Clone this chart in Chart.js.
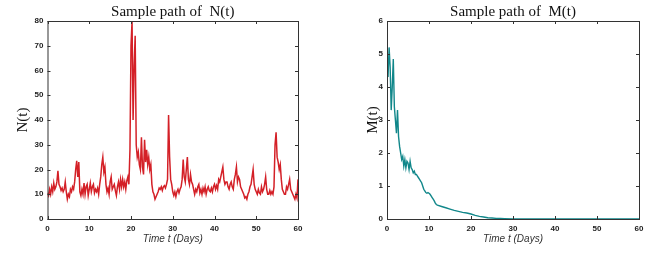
<!DOCTYPE html>
<html>
<head>
<meta charset="utf-8">
<script src="https://cdn.jsdelivr.net/npm/chart.js@4.4.1/dist/chart.umd.min.js"></script>
<style>
  body { margin: 0; background: #fff; }
  #wrap { position: relative; width: 660px; height: 259px; }
  canvas { position: absolute; top: 0; }
</style>
</head>
<body>
<div id="wrap">
  <canvas id="nChart" width="330" height="259" style="left:0"></canvas>
  <canvas id="mChart" width="330" height="259" style="left:330px"></canvas>
</div>
<script>
// N(t), every 0.25 day
const nValues = [
  10.5, 9.5, 12, 10,   13, 11, 14.5, 12,    13, 15, 19.5, 14,   13, 11.5, 12.5, 11,
  12, 15, 11, 8,       10, 9, 12, 11,       13, 12, 15, 20,     23.5, 17, 23, 11,
  9.5, 12, 10, 14.5,   10, 13, 14, 9.5,     12, 14.5, 11, 13,   14, 10.5, 12, 11,
  12.5, 10, 14, 17,    22, 25, 19, 21,      14, 11, 12.5, 10,   15, 17, 12, 13,
  14, 11.5, 9.5, 13,   15, 12, 16, 13,      16, 13, 15, 12,     15.5, 17, 14, 28,
  70, 80, 40, 62,      74, 30, 25, 27,      22, 20, 33, 21,     18, 32, 23, 28,
  22, 25, 20, 22,      14, 11, 10, 8,       9, 10, 11, 12.5,    12, 13, 11.5, 13,
  13.5, 12.5, 14, 16,  42, 25, 16, 14,      11, 9.5, 11, 9,     11, 12, 10.5, 12,
  13, 16, 24, 17,      15, 20, 25, 16,      14, 18, 15, 14,     12, 10, 12, 11,
  13, 14, 10.5, 12,    10, 12.5, 11, 13,    10, 12, 13, 11.5,   11, 12.5, 11, 13,
  14, 12, 13.5, 12,    16, 15, 17, 19,      21, 16, 14, 15,     15, 13, 12, 14,
  15, 13, 12, 16,      18, 21, 15, 17,      16, 13, 12, 11,     10, 8.5, 9, 8,
  10, 11, 13, 14,      17, 20, 14, 12,      11, 10, 12, 10.5,   10, 13, 11, 12,
  14, 17, 12, 10,      10, 11.5, 10, 11,    10, 13, 30, 35,     25, 23, 20, 22,
  16, 12, 11, 10,      10, 13, 12, 14,      16, 12, 11, 10,     9, 8, 10, 8.5,
  16
];
const nTimes = nValues.map((v, i) => i * 0.25);

// M(t)
const mTimes = [
  0, 0.25, 0.5, 0.75, 1, 1.25, 1.5, 1.75, 2, 2.25, 2.5, 2.75,
  3, 3.25, 3.5, 3.75, 4, 4.25, 4.5, 4.75, 5, 5.25, 5.5, 5.75,
  6, 6.25, 6.5, 6.75, 7, 7.25, 7.5, 7.75, 8, 8.25, 8.5, 8.75,
  9, 9.25, 9.5, 9.75, 10, 10.25, 10.5, 10.75, 11, 11.25, 11.5, 11.75,
  12, 13, 14, 15, 16, 17, 18, 19, 20, 21, 22, 23, 24, 25, 26, 27, 28, 30, 35, 40, 50, 60
];
const mValues = [
  4.8, 4.3, 5.2, 4.6, 3.3, 4.0, 4.85, 3.4, 3.0, 2.6, 3.3, 2.5,
  2.2, 2.0, 1.8, 1.9, 1.6, 1.8, 1.55, 1.75, 1.7, 1.5, 1.75, 1.55,
  1.5, 1.4, 1.45, 1.35, 1.35, 1.3, 1.25, 1.2, 1.15, 1.1, 1.0, 0.9,
  0.85, 0.8, 0.78, 0.8, 0.78, 0.75, 0.7, 0.65, 0.6, 0.55, 0.48, 0.44,
  0.42, 0.38, 0.34, 0.3, 0.26, 0.23, 0.2, 0.18, 0.15, 0.11, 0.08, 0.06, 0.04, 0.03, 0.02, 0.015, 0.01, 0.005, 0.002, 0.001, 0, 0
];

const xTicks = [0, 10, 20, 30, 40, 50, 60];

// box round the plot with short inward ticks on every side
const frame = {
  id: 'frame',
  afterDraw(chart) {
    const { ctx, chartArea: a, scales: { x, y } } = chart;
    ctx.save();
    ctx.strokeStyle = '#333';
    ctx.lineWidth = 1;
    ctx.strokeRect(a.left + 0.5, a.top + 0.5, a.right - a.left, a.bottom - a.top);
    ctx.beginPath();
    x.ticks.forEach(t => {
      const px = Math.round(x.getPixelForValue(t.value)) + 0.5;
      ctx.moveTo(px, a.bottom); ctx.lineTo(px, a.bottom - 3);
      ctx.moveTo(px, a.top); ctx.lineTo(px, a.top + 3);
    });
    y.ticks.forEach(t => {
      const py = Math.round(y.getPixelForValue(t.value)) + 0.5;
      ctx.moveTo(a.left, py); ctx.lineTo(a.left + 3, py);
      ctx.moveTo(a.right, py); ctx.lineTo(a.right - 3, py);
    });
    ctx.stroke();
    ctx.restore();
  }
};

function makeChart(id, times, values, color, width, yMax, yStep, yLabel, pad, yWidth) {
  return new Chart(document.getElementById(id), {
    type: 'line',
    data: {
      datasets: [{
        data: times.map((t, i) => ({ x: t, y: values[i] })),
        borderColor: color,
        borderWidth: width,
        pointRadius: 0,
        tension: 0
      }]
    },
    options: {
      responsive: false,
      animation: false,
      layout: { padding: pad },
      plugins: {
        legend: { display: false },
        tooltip: { enabled: false },
        title: {
          display: true,
          text: 'Sample path of  ' + yLabel,
          fullSize: false,
          color: '#111',
          font: { family: 'Liberation Serif', size: 15, weight: 'normal' },
          padding: { top: 3, bottom: 0 }
        }
      },
      scales: {
        x: {
          type: 'linear',
          min: 0, max: 60,
          afterBuildTicks: s => { s.ticks = xTicks.map(v => ({ value: v })); },
          afterFit: s => { s.height = 28; },
          grid: { display: false, drawTicks: false },
          border: { display: false },
          ticks: { color: '#222', padding: 5, font: { family: 'Liberation Sans', size: 8, weight: 'bold' } },
          title: {
            display: true, text: 'Time t (Days)', color: '#333',
            font: { family: 'Liberation Sans', size: 10, style: 'italic' },
            padding: { top: 0, bottom: 2 }
          }
        },
        y: {
          min: 0, max: yMax,
          afterFit: s => { s.width = yWidth; },
          grid: { display: false, drawTicks: false },
          border: { display: false },
          ticks: { stepSize: yStep, color: '#222', padding: 4, font: { family: 'Liberation Sans', size: 8, weight: 'bold' } },
          title: {
            display: true, text: yLabel, color: '#111',
            font: { family: 'Liberation Serif', size: 15 },
            padding: 0
          }
        }
      }
    },
    plugins: [frame]
  });
}

makeChart('nChart', nTimes, nValues, '#d42027', 1.5, 80, 10, 'N(t)', { left: 14, right: 32, top: 0, bottom: 12 }, 33.5);
makeChart('mChart', mTimes, mValues, '#11878a', 1.4, 6, 1, 'M(t)', { left: 34, right: 21, top: 0, bottom: 12 }, 23);
</script>
</body>
</html>
